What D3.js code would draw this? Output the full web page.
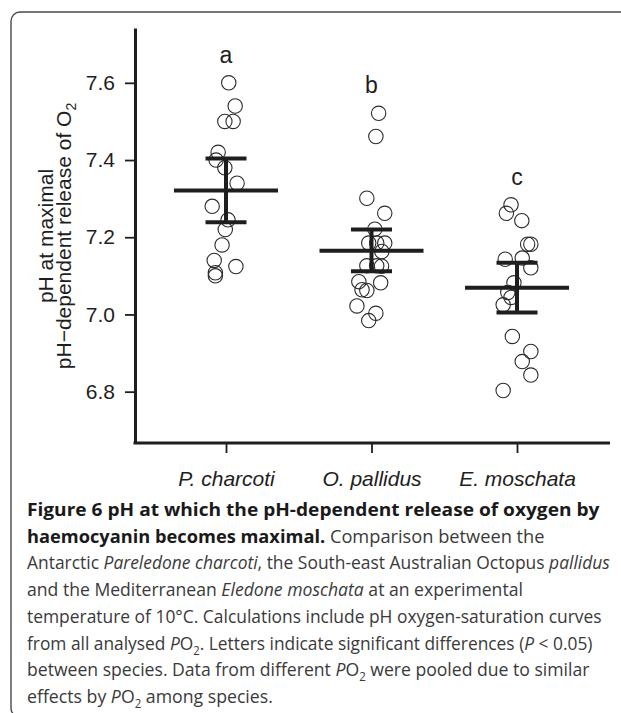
<!DOCTYPE html>
<html><head><meta charset="utf-8">
<script src="https://cdn.jsdelivr.net/npm/d3@7/dist/d3.min.js"></script>
<style>
html,body{margin:0;padding:0;background:#fff;}
svg{display:block;}
</style></head>
<body>
<svg id="chart" width="621" height="713"></svg>
<script>
// ---------- data ----------
const categories = ["P. charcoti", "O. pallidus", "E. moschata"];
const groupLetters = ["a", "b", "c"];
const yTickValues = [6.8, 7.0, 7.2, 7.4, 7.6];

const charcotiValues = [7.60, 7.54, 7.50, 7.50, 7.42, 7.40, 7.38, 7.34, 7.28, 7.245, 7.22, 7.18, 7.14, 7.124, 7.108, 7.10];
const charcotiJitter = [0.019, 0.063, -0.008, 0.049, -0.054, -0.068, -0.008, 0.076, -0.095, 0.014, -0.005, -0.027, -0.081, 0.068, -0.073, -0.073];

const pallidusValues = [7.521, 7.461, 7.301, 7.262, 7.221, 7.185, 7.185, 7.185, 7.163, 7.126, 7.126, 7.125, 7.085, 7.082, 7.064, 7.062, 7.022, 7.003, 6.984];
const pallidusJitter = [0.049, 0.030, -0.032, 0.091, 0.023, -0.019, 0.036, 0.091, 0.071, -0.032, 0.036, 0.069, -0.087, 0.063, -0.065, -0.032, -0.100, 0.030, -0.019];

const moschataValues = [7.284, 7.262, 7.243, 7.182, 7.182, 7.143, 7.146, 7.121, 7.082, 7.057, 7.044, 7.025, 6.943, 6.904, 6.878, 6.843, 6.803];
const moschataJitter = [-0.041, -0.073, 0.033, 0.073, 0.095, -0.081, 0.036, 0.095, -0.021, -0.063, -0.041, -0.095, -0.032, 0.095, 0.036, 0.095, -0.095];

const groupMeans = [7.321, 7.165, 7.069];
const errUpper = [7.404, 7.220, 7.134];
const errLower = [7.239, 7.112, 7.005];

const yLabelLine1 = "pH at maximal";
const yLabelLine2 = "pH\u2212dependent release of O";

const captionLines = [
  [["Figure 6 pH at which the pH-dependent release of oxygen by", "b"]],
  [["haemocyanin becomes maximal.", "b"], [" Comparison between the", "r"]],
  [["Antarctic ", "r"], ["Pareledone charcoti", "i"], [", the South-east Australian Octopus ", "r"], ["pallidus", "i"]],
  [["and the Mediterranean ", "r"], ["Eledone moschata", "i"], [" at an experimental", "r"]],
  [["temperature of 10\u00b0C. Calculations include pH oxygen-saturation curves", "r"]],
  [["from all analysed ", "r"], ["P", "i"], ["O", "r"], ["2", "sub"], [". Letters indicate significant differences (", "r"], ["P", "i"], [" < 0.05)", "r"]],
  [["between species. Data from different ", "r"], ["P", "i"], ["O", "r"], ["2", "sub"], [" were pooled due to similar", "r"]],
  [["effects by ", "r"], ["P", "i"], ["O", "r"], ["2", "sub"], [" among species.", "r"]]
];

// ---------- drawing ----------
const svg = d3.select("#chart");
const ink = "#1e1e1e";
const plotFont = "'Liberation Sans', Arial, Helvetica, sans-serif";

// frame
svg.append("rect")
  .attr("x", 11).attr("y", 12).attr("width", 660).attr("height", 705)
  .attr("rx", 9).attr("ry", 9)
  .attr("fill", "none").attr("stroke", "#4a4a4a").attr("stroke-width", 1.4);

const axisLeftX = 135, axisBottomY = 443, axisTopY = 28, axisRightX = 610;

const y = d3.scaleLinear().domain([6.667, 7.742]).range([axisBottomY, axisTopY]);
const x = d3.scalePoint().domain(categories).range([226, 517]);
const step = 145.6;

// y axis
const gy = svg.append("g").attr("transform", `translate(${axisLeftX},0)`)
  .call(d3.axisLeft(y).tickValues(yTickValues).tickFormat(d3.format(".1f"))
    .tickSize(10).tickSizeOuter(0).tickPadding(10));
gy.select(".domain").attr("stroke", ink).attr("stroke-width", 3);
gy.selectAll(".tick line").attr("stroke", ink).attr("stroke-width", 1.8);
gy.selectAll(".tick text").attr("font-family", plotFont).attr("font-size", 21).attr("fill", ink);

// x axis
svg.append("line").attr("x1", axisLeftX - 1.5).attr("x2", axisRightX)
  .attr("y1", axisBottomY).attr("y2", axisBottomY)
  .attr("stroke", ink).attr("stroke-width", 3);
const gx = svg.append("g").attr("transform", `translate(0,${axisBottomY})`)
  .call(d3.axisBottom(x).tickSize(10).tickSizeOuter(0).tickPadding(14));
gx.select(".domain").remove();
gx.selectAll(".tick line").attr("stroke", ink).attr("stroke-width", 1.8);
gx.selectAll(".tick text").attr("font-family", plotFont).attr("font-size", 21)
  .attr("font-style", "italic").attr("fill", ink).attr("dy", "0.9em");

// y label
const yl = svg.append("text").attr("font-family", plotFont).attr("font-size", 21).attr("fill", ink)
  .attr("text-anchor", "middle")
  .attr("transform", `translate(53,236) rotate(-90)`);
yl.text(yLabelLine1);
const yl2 = svg.append("text").attr("font-family", plotFont).attr("font-size", 21).attr("fill", ink)
  .attr("text-anchor", "middle")
  .attr("transform", `translate(71,236) rotate(-90)`);
yl2.append("tspan").text(yLabelLine2);
yl2.append("tspan").attr("font-size", 14).attr("dy", 5).text("2");

// points
const groups = [
  {values: charcotiValues, jitter: charcotiJitter},
  {values: pallidusValues, jitter: pallidusJitter},
  {values: moschataValues, jitter: moschataJitter}
];
groups.forEach((g, gi) => {
  const pts = g.values.map((v, i) => ({v, j: g.jitter[i]}));
  svg.append("g").selectAll("circle").data(pts).join("circle")
    .attr("cx", d => x(categories[gi]) + d.j * step)
    .attr("cy", d => y(d.v))
    .attr("r", 7.2)
    .attr("fill", "none")
    .attr("stroke", "#2b2b2b")
    .attr("stroke-width", 1.1);
});

// mean and error bars
categories.forEach((c, i) => {
  const cx = x(c);
  const g = svg.append("g").attr("stroke", ink).attr("stroke-width", 4);
  g.append("line").attr("x1", cx).attr("x2", cx).attr("y1", y(errUpper[i])).attr("y2", y(errLower[i]));
  g.append("line").attr("x1", cx - 20.5).attr("x2", cx + 20.5).attr("y1", y(errUpper[i])).attr("y2", y(errUpper[i]));
  g.append("line").attr("x1", cx - 20.5).attr("x2", cx + 20.5).attr("y1", y(errLower[i])).attr("y2", y(errLower[i]));
  g.append("line").attr("x1", cx - 52).attr("x2", cx + 52).attr("y1", y(groupMeans[i])).attr("y2", y(groupMeans[i]));
});

// significance letters
const groupMax = groups.map(g => d3.max(g.values));
svg.append("g").selectAll("text").data(categories).join("text")
  .attr("x", d => x(d))
  .attr("y", (d, i) => y(groupMax[i]) - 20)
  .attr("text-anchor", "middle")
  .attr("font-family", plotFont).attr("font-size", 23).attr("fill", ink)
  .text((d, i) => groupLetters[i]);

// caption
const capFont = "'Open Sans', 'Noto Sans', sans-serif";
const capTargets = [573, 518, 583, 496, 575, 566, 563, 246];
captionLines.forEach((segs, li) => {
  const baseY = 516 + li * 26.7;
  const t = svg.append("text").attr("font-family", capFont).attr("font-size", 18.5)
    .attr("fill", "#3a3a3a").attr("xml:space", "preserve");
  let sub = false;
  segs.forEach(([txt, st]) => {
    const ts = t.append("tspan").text(txt);
    if (st === "b") ts.attr("font-weight", 700).attr("fill", "#1a1a1a");
    if (st === "i") ts.attr("font-style", "italic");
    if (st === "sub") { ts.attr("font-size", 12).attr("dy", 5); sub = true; }
    else if (sub) { ts.attr("dy", -5); sub = false; }
  });
  const w = t.node().getComputedTextLength();
  const sx = capTargets[li] / w;
  t.attr("transform", `translate(27,${baseY}) scale(${sx},1)`);
});
</script>
</body></html>
